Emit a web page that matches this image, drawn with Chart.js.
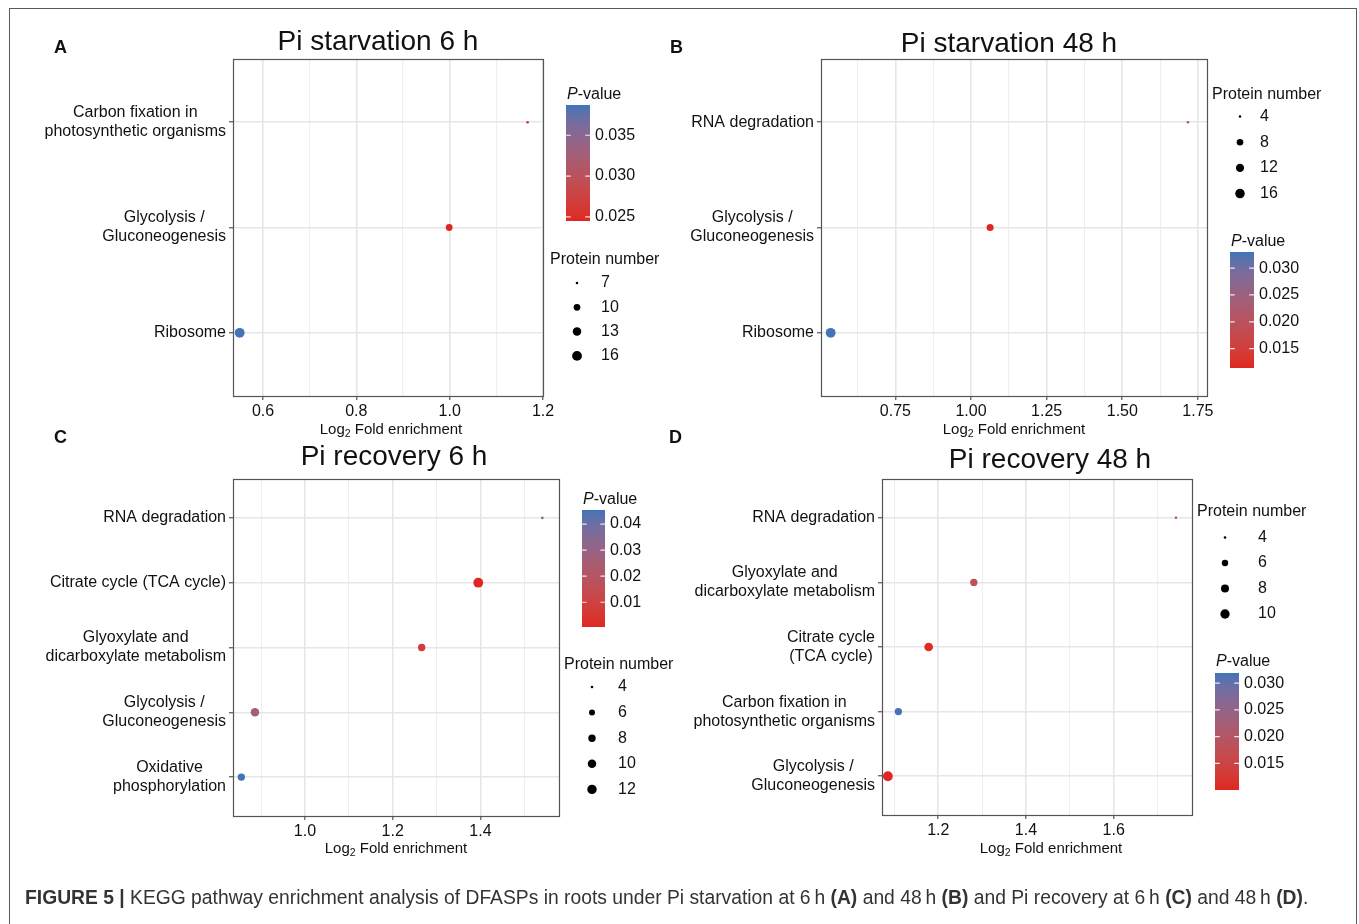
<!DOCTYPE html>
<html>
<head>
<meta charset="utf-8">
<script src="https://cdn.jsdelivr.net/npm/chart.js@4.4.1/dist/chart.umd.min.js"></script>
<style>
  body { margin: 0; background: #fff; width: 1359px; height: 924px; overflow: hidden; position: relative; font-family: "Liberation Sans", Arial, sans-serif; }
  canvas { position: absolute; left: 0; top: 0; }
  #frame { position: absolute; left: 9px; top: 8px; width: 1348px; height: 1000px; border: 1.5px solid #5a5a5a; box-sizing: border-box; }
  #caption { position: absolute; left: 25px; top: 888px; font-size: 19.3px; line-height: 20px; color: #333; white-space: nowrap; }
</style>
</head>
<body>
<div id="frame"></div>
<canvas id="chartA" width="1359" height="924"></canvas>
<canvas id="chartB" width="1359" height="924"></canvas>
<canvas id="chartC" width="1359" height="924"></canvas>
<canvas id="chartD" width="1359" height="924"></canvas>
<div id="caption"><b>FIGURE 5 |</b> KEGG pathway enrichment analysis of DFASPs in roots under Pi starvation at 6&#8201;h <b>(A)</b> and 48&#8201;h <b>(B)</b> and Pi recovery at 6&#8201;h <b>(C)</b> and 48&#8201;h <b>(D)</b>.</div>

<script>
// A - Pi starvation 6 h
const termsA = ['Carbon fixation in\nphotosynthetic organisms', 'Glycolysis /\nGluconeogenesis', 'Ribosome'];
const foldA = [1.167, 0.999, 0.550];
const countA = [7, 10, 16];
const pvalA = [0.0248, 0.0245, 0.0387];
const xTicksA = [0.6, 0.8, 1.0, 1.2];
const sizeBreaksA = [7, 10, 13, 16];
const pBreaksA = [0.025, 0.030, 0.035];

// B - Pi starvation 48 h
const termsB = ['RNA degradation', 'Glycolysis /\nGluconeogenesis', 'Ribosome'];
const foldB = [1.717, 1.063, 0.536];
const countB = [4, 9, 17];
const pvalB = [0.0222, 0.0114, 0.0330];
const xTicksB = [0.75, 1.00, 1.25, 1.50, 1.75];
const sizeBreaksB = [4, 8, 12, 16];
const pBreaksB = [0.015, 0.020, 0.025, 0.030];

// C - Pi recovery 6 h
const termsC = ['RNA degradation', 'Citrate cycle (TCA cycle)', 'Glyoxylate and\ndicarboxylate metabolism', 'Glycolysis /\nGluconeogenesis', 'Oxidative\nphosphorylation'];
const foldC = [1.541, 1.395, 1.266, 0.886, 0.855];
const countC = [4, 13, 8, 10, 8];
const pvalC = [0.0385, 0.0005, 0.0075, 0.0265, 0.0454];
const xTicksC = [1.0, 1.2, 1.4];
const sizeBreaksC = [4, 6, 8, 10, 12];
const pBreaksC = [0.01, 0.02, 0.03, 0.04];

// D - Pi recovery 48 h
const termsD = ['RNA degradation', 'Glyoxylate and\ndicarboxylate metabolism', 'Citrate cycle\n(TCA cycle)', 'Carbon fixation in\nphotosynthetic organisms', 'Glycolysis /\nGluconeogenesis'];
const foldD = [1.742, 1.281, 1.178, 1.109, 1.085];
const countD = [4, 7, 9, 7, 11];
const pvalD = [0.0212, 0.0180, 0.0108, 0.0319, 0.0100];
const xTicksD = [1.2, 1.4, 1.6];
const sizeBreaksD = [4, 6, 8, 10];
const pBreaksD = [0.015, 0.020, 0.025, 0.030];

const FONT = '"Liberation Sans", Arial, sans-serif';
const TEXT = '#111';
const W = 1359, H = 924;
Chart.defaults.font.family = FONT;

// colour gradient red (low p) -> blue (high p), interpolated in Lab like ggplot
const LOW = [224, 38, 33], HIGH = [66, 116, 183];
function toLin(c) { c /= 255; return c <= 0.04045 ? c / 12.92 : Math.pow((c + 0.055) / 1.055, 2.4); }
function fromLin(c) { c = c <= 0.0031308 ? 12.92 * c : 1.055 * Math.pow(c, 1 / 2.4) - 0.055; return Math.round(Math.max(0, Math.min(1, c)) * 255); }
function rgb2lab(rgb) {
  const [r, g, b] = rgb.map(toLin);
  const f = t => t > 0.008856 ? Math.cbrt(t) : 7.787 * t + 16 / 116;
  const x = f((0.4124 * r + 0.3576 * g + 0.1805 * b) / 0.95047);
  const y = f(0.2126 * r + 0.7152 * g + 0.0722 * b);
  const z = f((0.0193 * r + 0.1192 * g + 0.9505 * b) / 1.08883);
  return [116 * y - 16, 500 * (x - y), 200 * (y - z)];
}
function lab2rgb([L, a, bb]) {
  const fi = t => t * t * t > 0.008856 ? t * t * t : (t - 16 / 116) / 7.787;
  const yy = (L + 16) / 116;
  const x = fi(a / 500 + yy) * 0.95047, y = fi(yy), z = fi(yy - bb / 200) * 1.08883;
  return [fromLin(3.2406 * x - 1.5372 * y - 0.4986 * z), fromLin(-0.9689 * x + 1.8758 * y + 0.0415 * z), fromLin(0.0557 * x - 0.2040 * y + 1.0570 * z)];
}
const labLow = rgb2lab(LOW), labHigh = rgb2lab(HIGH);
function pColour(t) {
  t = Math.max(0, Math.min(1, t));
  const c = lab2rgb(labLow.map((v, i) => v + (labHigh[i] - v) * t));
  return `rgb(${c[0]},${c[1]},${c[2]})`;
}

function makePanel(id, d, lay) {
  const sMin = Math.min(...d.count), sMax = Math.max(...d.count);
  const pMin = Math.min(...d.pval), pMax = Math.max(...d.pval);
  const radius = v => 1.3 + 3.6 * Math.sqrt(Math.max(0, (v - sMin) / (sMax - sMin)));
  const colour = p => pColour((p - pMin) / (pMax - pMin));
  const n = d.terms.length;

  const majors = d.xTicks;
  const step = majors[1] - majors[0];
  const minors = [majors[0] - step / 2, ...majors.map(v => v + step / 2)].filter(v => v > lay.xMin && v < lay.xMax);
  const isMajor = v => majors.some(m => Math.abs(m - v) < 1e-9);

  // titles, labels and legends drawn round the plot panel
  const decor = {
    id: 'decor' + id,
    afterDraw(chart) {
      const ctx = chart.ctx, a = chart.chartArea, ys = chart.scales.y;
      ctx.save();
      ctx.strokeStyle = '#555';
      ctx.lineWidth = 1.2;
      ctx.strokeRect(Math.round(a.left) + 0.5, Math.round(a.top) + 0.5, Math.round(a.right - a.left), Math.round(a.bottom - a.top));

      // category labels: lines centred, block right-aligned to the axis
      ctx.fillStyle = TEXT;
      ctx.font = '16px ' + FONT;
      ctx.textAlign = 'center';
      ctx.textBaseline = 'middle';
      d.terms.forEach((t, i) => {
        const lines = t.split('\n');
        const w = Math.max(...lines.map(l => ctx.measureText(l).width));
        const cx = a.left - 7 - w / 2;
        const cy = ys.getPixelForValue(i + 1);
        lines.forEach((l, j) => ctx.fillText(l, cx, cy + (j - (lines.length - 1) / 2) * 19));
      });

      // panel title and letter
      ctx.textBaseline = 'alphabetic';
      ctx.font = '28px ' + FONT;
      ctx.fillText(d.title, lay.titleX, lay.titleY);
      ctx.textAlign = 'left';
      ctx.font = 'bold 18px ' + FONT;
      ctx.fillText(d.letter, lay.letterX, lay.letterY);

      // x axis title with subscript
      ctx.font = '15px ' + FONT;
      const w1 = ctx.measureText('Log').width;
      const w3 = ctx.measureText(' Fold enrichment').width;
      ctx.font = '10.5px ' + FONT;
      const w2 = ctx.measureText('2').width;
      let x0 = lay.axisX - (w1 + w2 + w3) / 2;
      ctx.font = '15px ' + FONT;
      ctx.fillText('Log', x0, lay.axisY);
      ctx.font = '10.5px ' + FONT;
      ctx.fillText('2', x0 + w1, lay.axisY + 3);
      ctx.font = '15px ' + FONT;
      ctx.fillText(' Fold enrichment', x0 + w1 + w2, lay.axisY);

      // P-value colour bar
      const cb = lay.cb;
      const g = ctx.createLinearGradient(0, cb.y + cb.h, 0, cb.y);
      for (let k = 0; k <= 20; k++) g.addColorStop(k / 20, pColour(k / 20));
      ctx.fillStyle = g;
      ctx.fillRect(cb.x, cb.y, cb.w, cb.h);
      ctx.textBaseline = 'middle';
      ctx.font = '16px ' + FONT;
      d.pBreaks.forEach(p => {
        const yy = cb.y + cb.h - (p - pMin) / (pMax - pMin) * cb.h;
        ctx.strokeStyle = 'rgba(255,255,255,0.85)';
        ctx.beginPath();
        ctx.moveTo(cb.x, yy); ctx.lineTo(cb.x + cb.w * 0.2, yy);
        ctx.moveTo(cb.x + cb.w * 0.8, yy); ctx.lineTo(cb.x + cb.w, yy);
        ctx.stroke();
        ctx.fillStyle = TEXT;
        ctx.fillText(p.toFixed(d.pDigits), cb.x + cb.w + 5, yy);
      });
      ctx.font = 'italic 16px ' + FONT;
      ctx.fillText('P', cb.x + 1, cb.titleY);
      const wp = ctx.measureText('P').width;
      ctx.font = '16px ' + FONT;
      ctx.fillText('-value', cb.x + 1 + wp, cb.titleY);

      // protein number size legend
      const sz = lay.sz;
      ctx.fillText('Protein number', sz.titleX, sz.titleY);
      d.sizeBreaks.forEach((v, k) => {
        const yy = sz.y0 + k * sz.dy;
        ctx.fillStyle = '#000';
        ctx.beginPath();
        ctx.arc(sz.dotX, yy, radius(v), 0, Math.PI * 2);
        ctx.fill();
        ctx.fillStyle = TEXT;
        ctx.fillText(String(v), sz.labelX, yy);
      });
      ctx.restore();
    }
  };

  return new Chart(document.getElementById(id), {
    type: 'scatter',
    data: {
      datasets: [{
        data: d.fold.map((f, i) => ({ x: f, y: i + 1 })),
        pointRadius: c => radius(d.count[c.dataIndex]),
        pointHoverRadius: c => radius(d.count[c.dataIndex]),
        pointBackgroundColor: c => colour(d.pval[c.dataIndex]),
        pointBorderWidth: 0
      }]
    },
    options: {
      responsive: false,
      animation: false,
      devicePixelRatio: 1,
      events: [],
      layout: { padding: { left: 0, top: lay.top, right: W - lay.right, bottom: 0 } },
      plugins: { legend: { display: false }, tooltip: { enabled: false } },
      scales: {
        x: {
          type: 'linear',
          min: lay.xMin,
          max: lay.xMax,
          afterBuildTicks: s => { s.ticks = [...majors, ...minors].sort((p, q) => p - q).map(v => ({ value: v })); },
          afterFit: s => { s.height = H - lay.bottom; },
          ticks: {
            autoSkip: false, maxRotation: 0, padding: 2, color: TEXT,
            font: { size: 16 },
            callback: v => isMajor(v) ? v.toFixed(d.xDigits) : ''
          },
          grid: {
            color: c => isMajor(c.tick.value) ? '#E6E6E6' : '#EEEEEE',
            lineWidth: c => isMajor(c.tick.value) ? 1.6 : 1.1,
            tickLength: 4,
            tickColor: c => isMajor(c.tick.value) ? '#333' : 'rgba(0,0,0,0)',
            tickWidth: 1
          },
          border: { display: false }
        },
        y: {
          type: 'linear',
          min: 0.4,
          max: n + 0.6,
          reverse: true,
          afterBuildTicks: s => { s.ticks = d.terms.map((t, i) => ({ value: i + 1 })); },
          afterFit: s => { s.width = lay.left; },
          ticks: { display: false },
          grid: { color: '#E6E6E6', lineWidth: 1.6, tickLength: 4, tickColor: '#333', tickWidth: 1 },
          border: { display: false }
        }
      }
    },
    plugins: [decor]
  });
}

makePanel('chartA',
  { title: 'Pi starvation 6 h', letter: 'A', terms: termsA, fold: foldA, count: countA, pval: pvalA,
    xTicks: xTicksA, xDigits: 1, sizeBreaks: sizeBreaksA, pBreaks: pBreaksA, pDigits: 3 },
  { left: 233, right: 543, top: 59, bottom: 396, xMin: 0.5357, xMax: 1.2,
    titleX: 378, titleY: 50, letterX: 54, letterY: 53, axisX: 391, axisY: 434,
    cb: { x: 566, y: 105, w: 24, h: 116, titleY: 95 },
    sz: { titleX: 550, titleY: 260, dotX: 577, labelX: 601, y0: 283, dy: 24.3 } });

makePanel('chartB',
  { title: 'Pi starvation 48 h', letter: 'B', terms: termsB, fold: foldB, count: countB, pval: pvalB,
    xTicks: xTicksB, xDigits: 2, sizeBreaks: sizeBreaksB, pBreaks: pBreaksB, pDigits: 3 },
  { left: 821, right: 1207, top: 59, bottom: 396, xMin: 0.504, xMax: 1.780,
    titleX: 1009, titleY: 52, letterX: 670, letterY: 53, axisX: 1014, axisY: 434,
    cb: { x: 1230, y: 252, w: 24, h: 116, titleY: 242 },
    sz: { titleX: 1212, titleY: 95, dotX: 1240, labelX: 1260, y0: 116.5, dy: 25.7 } });

makePanel('chartC',
  { title: 'Pi recovery 6 h', letter: 'C', terms: termsC, fold: foldC, count: countC, pval: pvalC,
    xTicks: xTicksC, xDigits: 1, sizeBreaks: sizeBreaksC, pBreaks: pBreaksC, pDigits: 2 },
  { left: 233, right: 559, top: 479, bottom: 816, xMin: 0.836, xMax: 1.579,
    titleX: 394, titleY: 465, letterX: 54, letterY: 443, axisX: 396, axisY: 853,
    cb: { x: 582, y: 510, w: 23, h: 117, titleY: 500 },
    sz: { titleX: 564, titleY: 665, dotX: 592, labelX: 618, y0: 687, dy: 25.6 } });

makePanel('chartD',
  { title: 'Pi recovery 48 h', letter: 'D', terms: termsD, fold: foldD, count: countD, pval: pvalD,
    xTicks: xTicksD, xDigits: 1, sizeBreaks: sizeBreaksD, pBreaks: pBreaksD, pDigits: 3 },
  { left: 882, right: 1192, top: 479, bottom: 815, xMin: 1.0716, xMax: 1.7786,
    titleX: 1050, titleY: 468, letterX: 669, letterY: 443, axisX: 1051, axisY: 853,
    cb: { x: 1215, y: 673, w: 24, h: 117, titleY: 662 },
    sz: { titleX: 1197, titleY: 512, dotX: 1225, labelX: 1258, y0: 537.5, dy: 25.5 } });
</script>
</body>
</html>
